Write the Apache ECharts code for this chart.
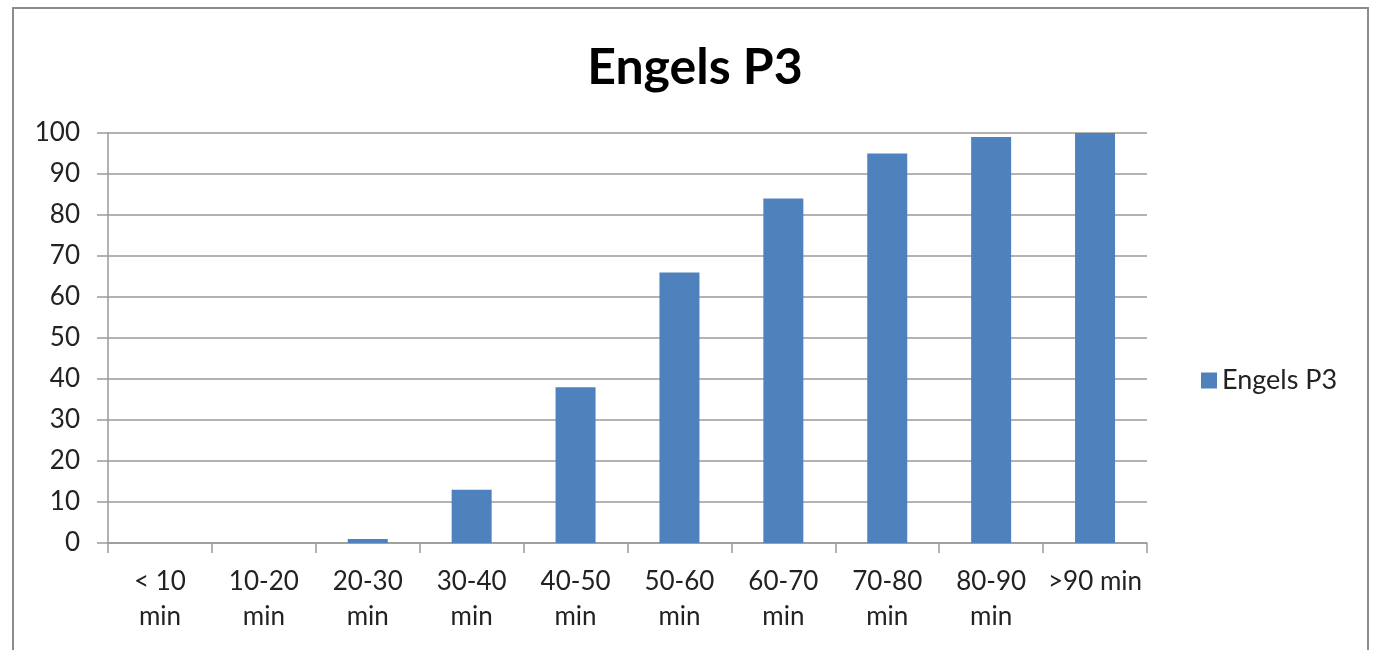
<!DOCTYPE html>
<html>
<head>
<meta charset="utf-8">
<script src="https://cdn.jsdelivr.net/npm/echarts@6/dist/echarts.min.js"></script>
<style>
html,body{margin:0;padding:0;background:#fff;}
#chart{width:1374px;height:650px;}
</style>
</head>
<body>
<div id="chart"></div>
<script>
const categories = ["< 10\nmin", "10-20\nmin", "20-30\nmin", "30-40\nmin", "40-50\nmin", "50-60\nmin", "60-70\nmin", "70-80\nmin", "80-90\nmin", ">90 min"];
const seriesName = "Engels P3";
const values = [0, 0, 1, 13, 38, 66, 84, 95, 99, 100];
const titleText = "Engels P3";

const font = "Lato, 'Open Sans', sans-serif";
const chart = echarts.init(document.getElementById('chart'));
chart.setOption({
  backgroundColor: '#fff',
  animation: false,
  graphic: [{
    type: 'rect',
    shape: { x: 13, y: 8, width: 1355, height: 660 },
    style: { fill: 'none', stroke: '#8c8c8c', lineWidth: 2 },
    silent: true
  }],
  title: {
    text: titleText,
    left: 690, top: 38, textAlign: 'center',
    textStyle: { fontFamily: font, fontWeight: 'bold', fontSize: 50, color: '#000' }
  },
  legend: {
    orient: 'vertical',
    left: 1196, top: 362,
    itemWidth: 16, itemHeight: 16, itemGap: 10,
    icon: 'rect',
    textStyle: { fontFamily: font, fontSize: 27, color: '#222' },
    data: [seriesName]
  },
  grid: { left: 108, right: 227, top: 133, bottom: 107, containLabel: false },
  xAxis: {
    type: 'category',
    data: categories,
    boundaryGap: true,
    axisLine: { show: true, lineStyle: { color: '#9a9a9a', width: 1.5 } },
    axisTick: { show: true, alignWithLabel: false, length: 10, lineStyle: { color: '#9a9a9a', width: 1.5 } },
    axisLabel: { fontFamily: font, fontSize: 26, color: '#222', lineHeight: 35, margin: 21, interval: 0 }
  },
  yAxis: {
    type: 'value',
    min: 0, max: 100, interval: 10,
    axisLine: { show: true, lineStyle: { color: '#9a9a9a', width: 1.5 } },
    axisTick: { show: true, length: 11, lineStyle: { color: '#9a9a9a', width: 1.5 } },
    splitLine: { show: true, lineStyle: { color: '#9a9a9a', width: 1.5 } },
    axisLabel: { fontFamily: font, fontSize: 26, color: '#222', margin: 28 }
  },
  series: [{
    name: seriesName,
    type: 'bar',
    data: values,
    barWidth: '38.5%',
    itemStyle: { color: '#4F81BD' }
  }]
});
</script>
</body>
</html>
